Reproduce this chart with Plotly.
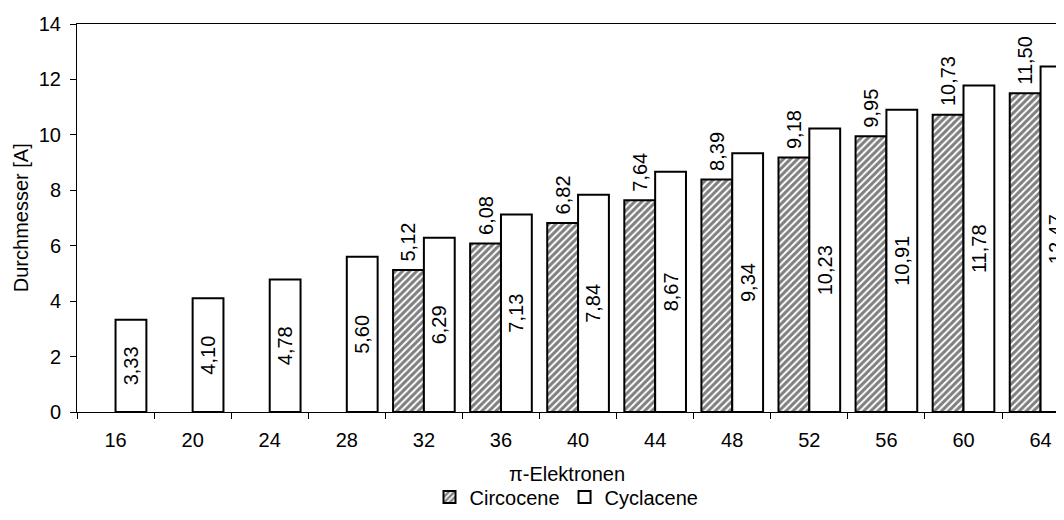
import plotly.graph_objects as go

categories = ["16", "20", "24", "28", "32", "36", "40", "44", "48", "52", "56", "60", "64"]
circocene = [None, None, None, None, 5.12, 6.08, 6.82, 7.64, 8.39, 9.18, 9.95, 10.73, 11.50]
cyclacene = [3.33, 4.10, 4.78, 5.60, 6.29, 7.13, 7.84, 8.67, 9.34, 10.23, 10.91, 11.78, 12.47]
y_ticks = [0, 2, 4, 6, 8, 10, 12, 14]
x_title = "π-Elektronen"
y_title = "Durchmesser [A]"


def fmt(v, pad=""):
    return "" if v is None else pad + f"{v:.2f}".replace(".", ",")


FONT = "Arial, Liberation Sans, sans-serif"

fig = go.Figure()
fig.add_trace(go.Bar(
    name="Circocene", x=categories, y=circocene,
    text=[fmt(v, "\u00a0") for v in circocene],
    marker=dict(color="white", line=dict(color="black", width=2),
                pattern=dict(shape="/", fgcolor="black", bgcolor="white", size=5, solidity=0.6)),
    textposition="outside", textangle=-90,
    textfont=dict(family=FONT, size=20, color="black"),
    constraintext="none", cliponaxis=True,
))
fig.add_trace(go.Bar(
    name="Cyclacene", x=categories, y=cyclacene,
    text=[fmt(v) for v in cyclacene],
    marker=dict(color="white", line=dict(color="black", width=2)),
    textposition="inside", insidetextanchor="middle", textangle=-90,
    textfont=dict(family=FONT, size=20, color="black"),
    constraintext="none", cliponaxis=True,
))

fig.update_layout(
    width=1048, height=504,
    margin=dict(l=69, r=0, t=16, b=100, autoexpand=False),
    paper_bgcolor="white", plot_bgcolor="white",
    barmode="group", bargap=0.2, bargroupgap=0,
    font=dict(family=FONT, size=20, color="black"),
    showlegend=True,
    legend=dict(orientation="h", x=0.5, xanchor="center",
                yref="container", y=0.03, yanchor="middle",
                font=dict(family=FONT, size=20), itemwidth=30, tracegroupgap=0),
    xaxis=dict(
        type="category", range=[-0.5, 12.2], automargin=False,
        showline=True, linecolor="black", linewidth=1, mirror=True,
        ticks="outside", ticklen=6, tickcolor="black", tickson="boundaries",
        ticklabelstandoff=10,
        showgrid=False, tickfont=dict(size=20),
    ),
    yaxis=dict(
        range=[0, 14], tickvals=y_ticks, automargin=False,
        showline=True, linecolor="black", linewidth=1,
        ticks="outside", ticklen=6, tickcolor="black", ticklabelstandoff=5,
        showgrid=False, zeroline=False, tickfont=dict(size=20),
    ),
    annotations=[
        dict(text=x_title, xref="paper", yref="paper", x=0.5, y=-0.16,
             xanchor="center", yanchor="middle", showarrow=False,
             font=dict(family=FONT, size=20, color="black")),
        dict(text=y_title, xref="paper", yref="paper", x=-0.057, y=0.5,
             xanchor="center", yanchor="middle", textangle=-90, showarrow=False,
             font=dict(family=FONT, size=20, color="black")),
    ],
)

fig.write_html("out.html")
